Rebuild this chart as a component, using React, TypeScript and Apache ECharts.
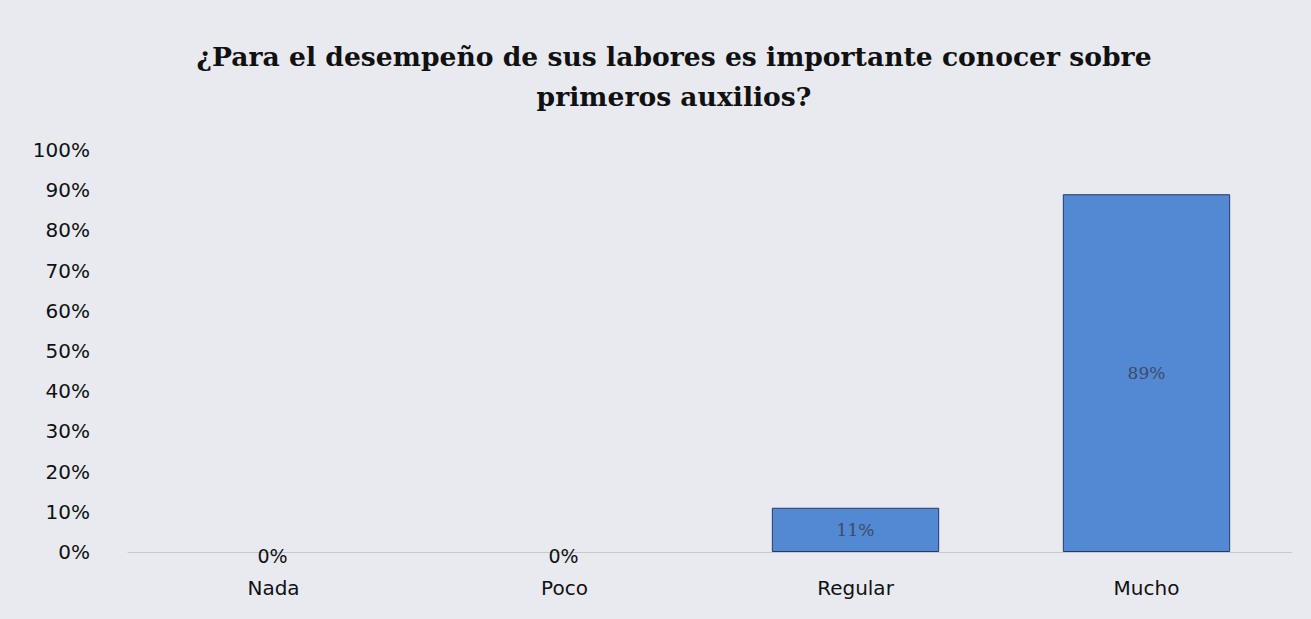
import React, { useEffect, useRef } from "react";
import * as echarts from "echarts";

const titleText = "¿Para el desempeño de sus labores es importante conocer sobre\nprimeros auxilios?";
const categories = ["Nada", "Poco", "Regular", "Mucho"];
const values = [0, 0, 11, 89];
const valueLabels = ["0%", "0%", "11%", "89%"];

export default function App() {
  const ref = useRef<HTMLDivElement>(null);
  useEffect(() => {
    const chart = echarts.init(ref.current!, null, { renderer: "svg" });
    chart.setOption({
      animation: false,
      backgroundColor: "#e8eaf0",
      title: {
        text: titleText,
        left: 669,
        textAlign: "center",
        top: 31,
        textStyle: {
          fontFamily: "DejaVu Serif",
          fontWeight: "bold",
          fontSize: 26.6,
          color: "#111",
          lineHeight: 40,
        },
      },
      grid: { left: 128, right: 19, top: 150, bottom: 67 },
      xAxis: {
        type: "category",
        data: categories,
        axisLine: { lineStyle: { color: "#c6c8ce", width: 1 } },
        axisTick: { show: false },
        axisLabel: {
          fontFamily: "DejaVu Sans",
          fontSize: 20,
          color: "#111",
          margin: 26,
        },
      },
      yAxis: {
        type: "value",
        min: 0,
        max: 100,
        interval: 10,
        axisLine: { show: false },
        axisTick: { show: false },
        splitLine: { show: false },
        axisLabel: {
          formatter: "{value}%",
          fontFamily: "DejaVu Sans",
          fontSize: 20,
          color: "#111",
          margin: 38,
        },
      },
      series: [
        {
          type: "bar",
          data: values.map((v, i) => ({
            value: v,
            itemStyle: v === 0 ? { borderWidth: 0, color: "transparent" } : undefined,
            label:
              v === 0
                ? {
                    show: true,
                    position: "inside",
                    offset: [-1, 4],
                    formatter: valueLabels[i],
                    fontFamily: "DejaVu Sans",
                    fontSize: 19,
                    color: "#111",
                  }
                : {
                    show: true,
                    position: "inside",
                    formatter: valueLabels[i],
                    fontFamily: "DejaVu Serif",
                    fontSize: 17,
                    color: "#3e4a66",
                  },
          })),
          barWidth: "57.5%",
          itemStyle: {
            color: "#5388d3",
            borderColor: "#27396a",
            borderWidth: 1,
          },
        },
      ],
    });
    return () => chart.dispose();
  }, []);
  return (
    <div
      ref={ref}
      style={{ position: "fixed", left: 0, top: 0, width: 1311, height: 619 }}
    />
  );
}
